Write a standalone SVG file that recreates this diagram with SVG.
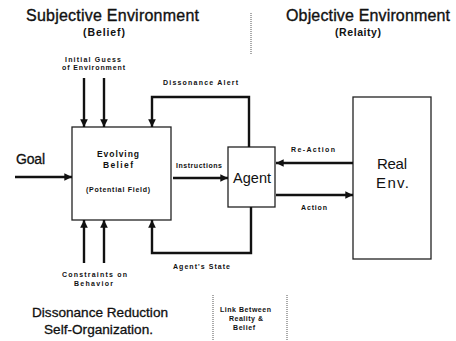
<svg xmlns="http://www.w3.org/2000/svg" width="456" height="341" viewBox="0 0 456 341">
<style>
.t{font-family:"Liberation Sans",Arial,sans-serif;fill:#111}
.big{font-size:16px;stroke:#111;stroke-width:0.35}
.mid{font-size:13.6px;stroke:#111;stroke-width:0.3}
.sub{font-size:10.5px;font-weight:bold}
.sm{font-size:7px;font-weight:bold}
.lbl{font-size:8.5px;font-weight:bold}
.box{fill:#fff;stroke:#222;stroke-width:1.3}
.ln{fill:none;stroke:#111;stroke-width:2.4}
.dot{fill:none;stroke:#555;stroke-width:1;stroke-dasharray:1 1}
</style>
<defs>
<marker id="ah" viewBox="0 0 10 10" refX="10" refY="5" markerWidth="3.2" markerHeight="3.2" orient="auto" markerUnits="strokeWidth">
<path d="M0,0 L10,5 L0,10 z" fill="#111"/>
</marker>
</defs>
<rect width="456" height="341" fill="#fff"/>
<g id="titles">
<text class="t big" x="26" y="21" textLength="173">Subjective Environment</text>
<text class="t sub" x="83" y="36" textLength="42">(Belief)</text>
<text class="t big" x="286" y="21" textLength="164">Objective Environment</text>
<text class="t sub" x="335" y="36" textLength="46">(Relaity)</text>
<text class="t mid" x="32" y="317" textLength="136">Dissonance Reduction</text>
<text class="t mid" x="44" y="334" textLength="109">Self-Organization.</text>
</g>
<g id="dividers">
<line class="dot" x1="251" y1="13" x2="251" y2="55"/>
<line class="dot" x1="213" y1="295" x2="213" y2="341"/>
<line class="dot" x1="287" y1="295" x2="287" y2="341"/>
</g>
<g id="link-note">
<text class="t sm" x="220" y="312" textLength="51">Link Between</text>
<text class="t sm" x="229" y="321" textLength="34">Reality &amp;</text>
<text class="t sm" x="233" y="330" textLength="22">Belief</text>
</g>
<g id="belief">
<rect class="box" x="72" y="127" width="99" height="93"/>
<text class="t lbl" x="97" y="157" textLength="42">Evolving</text>
<text class="t lbl" x="103" y="168" textLength="30">Belief</text>
<text class="t sm" x="86" y="192" textLength="64">(Potential Field)</text>
</g>
<g id="agent">
<rect class="box" x="228" y="147" width="47" height="60"/>
<text class="t" style="font-size:14.5px" x="233" y="183" textLength="38">Agent</text>
</g>
<g id="real-env">
<rect class="box" x="353" y="97" width="78" height="162"/>
<text class="t" style="font-size:15px" x="377" y="169" textLength="30">Real</text>
<text class="t" style="font-size:15px" x="376" y="188" textLength="33">Env.</text>
</g>
<g id="connectors">
<line class="ln" x1="15" y1="177" x2="72" y2="177" marker-end="url(#ah)"/>
<line class="ln" x1="84" y1="78" x2="84" y2="127" marker-end="url(#ah)"/>
<line class="ln" x1="104" y1="78" x2="104" y2="127" marker-end="url(#ah)"/>
<path class="ln" d="M249,147 V97 H152 V127" marker-end="url(#ah)"/>
<line class="ln" x1="173" y1="178" x2="228" y2="178" marker-end="url(#ah)"/>
<line class="ln" x1="84" y1="263" x2="84" y2="220" marker-end="url(#ah)"/>
<line class="ln" x1="104" y1="263" x2="104" y2="220" marker-end="url(#ah)"/>
<path class="ln" d="M251,207 V253 H152 V220" marker-end="url(#ah)"/>
<line class="ln" x1="353" y1="163" x2="276" y2="163" marker-end="url(#ah)"/>
<line class="ln" x1="276" y1="195" x2="353" y2="195" marker-end="url(#ah)"/>
</g>
<g id="labels">
<text class="t" x="16" y="164" style="font-size:14px;stroke:#111;stroke-width:0.3" textLength="29">Goal</text>
<text class="t sm" x="65" y="62" textLength="56">Initial Guess</text>
<text class="t sm" x="62" y="70" textLength="63">of Environment</text>
<text class="t sm" x="163" y="85" textLength="75">Dissonance Alert</text>
<text class="t sm" x="176" y="168" textLength="46">Instructions</text>
<text class="t sm" x="291" y="152" textLength="44">Re-Action</text>
<text class="t sm" x="301" y="210" textLength="26">Action</text>
<text class="t sm" x="173" y="269" textLength="57">Agent's State</text>
<text class="t sm" x="62" y="277" textLength="65">Constraints on</text>
<text class="t sm" x="74" y="286" textLength="39">Behavior</text>
</g>
</svg>
